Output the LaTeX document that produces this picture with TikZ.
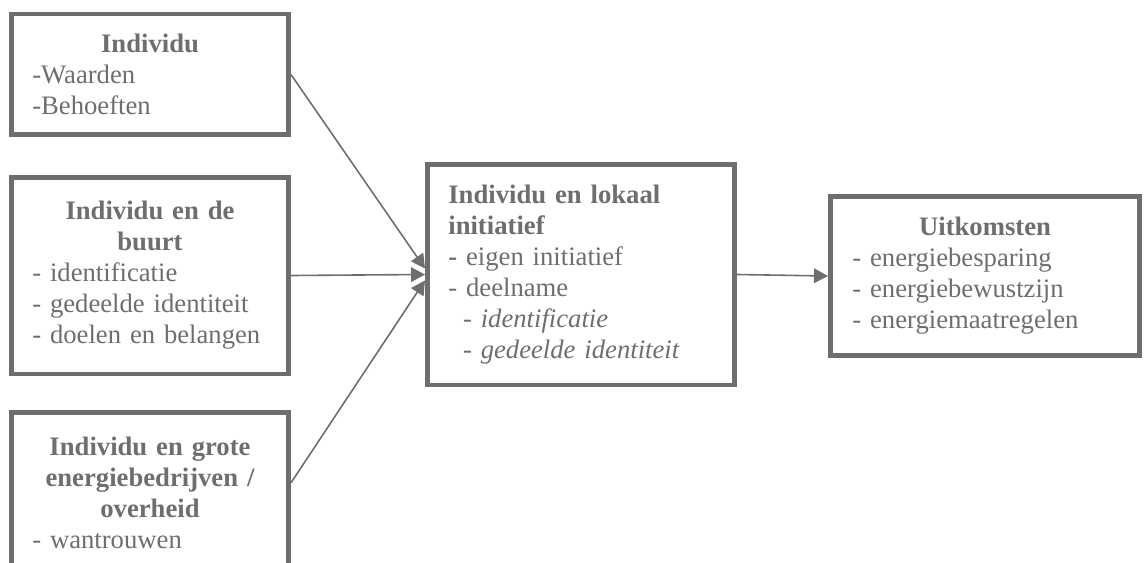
\documentclass[tikz,border=0pt]{standalone}
\usepackage{fontspec}
\setmainfont{Liberation Serif}
\usetikzlibrary{arrows.meta}
\definecolor{boxgray}{RGB}{110,110,110}
\setlength{\parindent}{0pt}
\newcommand{\boxtitle}[1]{{\centering\bfseries #1\par}}

\begin{document}
\begin{tikzpicture}[x=0.75pt,y=0.75pt,yscale=-1,xscale=1,
        every node/.style={font=\fontsize{20}{23.25}\selectfont, text=boxgray},
        factor/.style={draw=boxgray, line width=3.4pt, rectangle, align=left, inner xsep=0pt, inner ysep=0pt},
        link/.style={draw=boxgray, line width=1.2pt, -{Triangle[length=10.5pt,width=11pt]}}]
        \useasboundingbox (0,0) rectangle (1144,563);
        \clip (0,0) rectangle (1144,563);
        
        % Text Node
        \node [factor, minimum width=208.1pt, minimum height=90.4pt, text width=176.6pt] (indiv) at (150,74.5) {\boxtitle{Individu}-Waarden\\-Behoeften};
        % Text Node
        \node [factor, minimum width=208.1pt, minimum height=147.4pt, text width=176.6pt] (buurt) at (150,275.5) {\boxtitle{Individu en de\\buurt}- identificatie\\- gedeelde identiteit\\- doelen en belangen};
        % Text Node (runs off the page)
        \node [factor, anchor=north, minimum width=208.1pt, text width=176.6pt, inner ysep=18.3pt, text depth=120pt] (grote) at (150,410) {\boxtitle{Individu en grote\\energiebedrijven /\\overheid}- wantrouwen};
        % Text Node
        \node [factor, minimum width=230.6pt, minimum height=165.4pt, text width=199pt] (lokaal) at (581,274.5) {\textbf{Individu en lokaal\\initiatief}\\\textbf{-} eigen initiatief\\- deelname\\\hspace*{11pt}\textit{- identificatie}\\\hspace*{11pt}\textit{- gedeelde identiteit}};
        % Text Node
        \node [factor, minimum width=232.1pt, minimum height=119.6pt, text width=199pt] (uitkomst) at (985,276) {\boxtitle{Uitkomsten}- energiebesparing\\- energiebewustzijn\\- energiemaatregelen};
        
        %Straight Lines
        \draw [link] (indiv.east) -- ([yshift=-4.5pt]lokaal.west);
        %Straight Lines
        \draw [link] (buurt.east) -- (lokaal.west);
        %Straight Lines
        \draw [link] ([yshift=54.6pt]grote.north east) -- ([yshift=4.5pt]lokaal.west);
        %Straight Lines
        \draw [link] (lokaal.east) -- (uitkomst.west);
        
\end{tikzpicture}
\end{document}
